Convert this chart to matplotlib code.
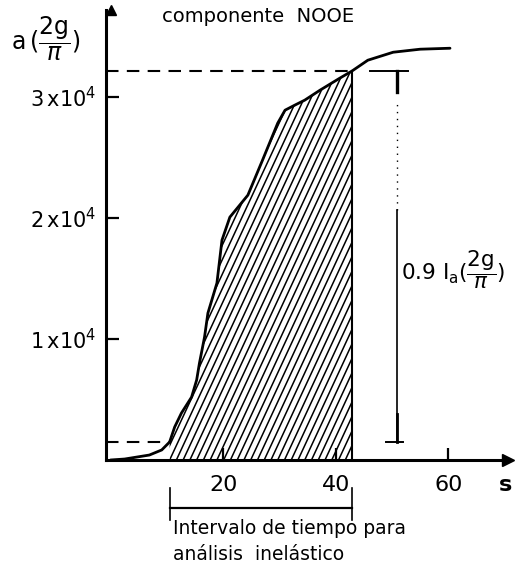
import numpy as np
import matplotlib
matplotlib.use("Agg")
import matplotlib.pyplot as plt
from matplotlib.patches import Polygon
import matplotlib.transforms as mtransforms

plt.rcParams['font.family'] = ['DejaVu Sans']
plt.rcParams['mathtext.fontset'] = 'dejavusans'

# ---- data ----
t = [0.0, 2.5, 6.9, 9.1, 10.5, 11.4, 12.6, 14.4, 15.3, 15.8, 16.7, 17.3, 18.9,
     19.8, 21.2, 24.4, 27.0, 29.7, 31.0, 32.7, 34.5, 37.2, 40.7, 42.9, 45.7,
     50.2, 55.0, 60.3]
arias = [0, 80, 410, 830, 1490, 2730, 3880, 5200, 6610, 8010, 10160, 12140,
         14620, 18170, 20070, 21890, 24780, 27840, 28910, 29320, 29740, 30560,
         31550, 32150, 33040, 33700, 33950, 34030]
t_start, t_end = 10.5, 42.9
level_low, level_high = 1490, 32150
ytick_vals = [10000, 20000, 30000]
ytick_labels = [r'$1\,\mathrm{x}10^4$', r'$2\,\mathrm{x}10^4$', r'$3\,\mathrm{x}10^4$']
xtick_vals = [20, 40, 60]
xtick_labels = ['20', '40', '60']

W, H = 520, 571
fig = plt.figure(figsize=(W / 100, H / 100), dpi=100)
L, R, T, B = 106, 508, 10, 460
ax = fig.add_axes([L / W, 1 - B / H, (R - L) / W, (B - T) / H])
ax.set_xlim(-0.8, 70.6)
ax.set_ylim(0, 37190)

for s in ['top', 'right']:
    ax.spines[s].set_visible(False)
for s in ['left', 'bottom']:
    ax.spines[s].set_linewidth(2.2)
ax.plot(1, 0, '>', color='k', ms=9, transform=ax.get_yaxis_transform(), clip_on=False)
ax.plot(0, 1, '^', color='k', ms=7, transform=ax.get_xaxis_transform(), clip_on=False)

ax.set_yticks(ytick_vals)
ax.set_yticklabels(ytick_labels, fontsize=15)
ax.set_xticks(xtick_vals)
ax.set_xticklabels(xtick_labels, fontsize=16)
ax.tick_params(axis='y', direction='in', length=9, width=1.6, pad=7)
ax.tick_params(axis='x', direction='in', length=9, width=1.6, pad=11)

# curve
ax.plot(t, arias, color='k', lw=2.0, solid_capstyle='round')

# hatched region
ts = np.array(t)
av = np.array(arias)
m = (ts >= t_start) & (ts <= t_end)
verts = list(zip(ts[m], av[m])) + [(t_end, 0), (t_start, 0)]
poly = Polygon(verts, closed=True, fill=False, lw=0)
ax.add_patch(poly)
slope = 1000.0
for s0 in np.arange(t_start - 42, t_end + 2, 1.2):
    ln, = ax.plot([s0, s0 + 40000 / slope], [0, 40000], color='k', lw=1.1)
    ln.set_clip_path(poly)
ax.plot([t_end, t_end], [0, level_high], color='k', lw=1.5)

# dashed level lines
ax.plot([-0.8, t_end], [level_high, level_high], color='k', lw=1.5, dashes=(6, 4))
ax.plot([-0.8, t_start], [level_low, level_low], color='k', lw=1.5, dashes=(6, 4))

# dimension line 0.9 Ia
xd = 50.9
ax.plot([46.1, 52.8], [level_high, level_high], color='k', lw=1.4)
ax.plot([48.9, 52.0], [level_low, level_low], color='k', lw=1.4)
ax.plot([xd, xd], [level_low, 20700], color='k', lw=1.2)
ax.plot([xd, xd], [20700, 29500], color='k', lw=1.0, ls=(0, (1, 4)))
ax.plot([xd, xd], [30400, level_high], color='k', lw=2.4)
ax.plot([xd, xd], [level_low, 3800], color='k', lw=2.0)

def ftext(x, y, s, **kw):
    fig.text(x / W, 1 - y / H, s, **kw)

ftext(401, 270, r'$0.9\ \mathrm{I_a}(\dfrac{2\mathrm{g}}{\pi})$', fontsize=15.5,
      ha='left', va='center')
ftext(46, 39, r'$\mathrm{a}\,(\dfrac{2\mathrm{g}}{\pi})$', fontsize=17,
      ha='center', va='center')
ftext(162, 17, 'componente  NOOE', fontsize=14, ha='left', va='center')
ftext(505, 485, 's', fontsize=16, ha='center', va='center', fontweight='bold')

# interval bracket below the axis
tr = mtransforms.blended_transform_factory(ax.transData, fig.transFigure)
for xv in [t_start, t_end]:
    ax.plot([xv, xv], [1 - 488 / H, 1 - 520 / H], color='k', lw=1.2,
            transform=tr, clip_on=False)
ax.plot([t_start, t_end], [1 - 508 / H, 1 - 508 / H], color='k', lw=1.6,
        transform=tr, clip_on=False)
ftext(173, 528, 'Intervalo de tiempo para', fontsize=13.5, ha='left', va='center')
ftext(173, 555, 'análisis  inelástico', fontsize=13.5, ha='left', va='center')

fig.savefig('out.png', dpi=100)
